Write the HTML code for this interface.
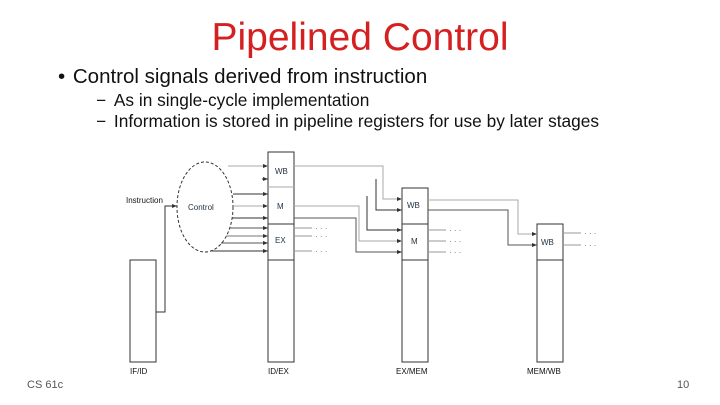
<!DOCTYPE html>
<html><head><style>
body{margin:0;width:720px;height:405px;background:#fff;overflow:hidden;position:relative;font-family:"Liberation Sans",sans-serif}
.t{position:absolute;white-space:nowrap}
</style></head><body>
<div class="t" style="left:0;width:720px;top:16px;text-align:center;font-size:39px;color:#d42020;font-family:'Liberation Sans',sans-serif">Pipelined Control</div>
<div class="t" style="left:58px;top:65px;font-size:20.5px;color:#111">• <span style="margin-left:2px">Control signals derived from instruction</span></div>
<div class="t" style="left:96px;top:90px;font-size:17.3px;color:#111">− <span style="margin-left:3px">As in single-cycle implementation</span></div>
<div class="t" style="left:96px;top:111px;font-size:17.3px;color:#111">− <span style="margin-left:3px">Information is stored in pipeline registers for use by later stages</span></div>
<div class="t" style="left:27px;top:379px;font-size:11px;color:#555">CS 61c</div>
<div class="t" style="left:677px;top:379px;font-size:11px;color:#555">10</div>
<svg width="720" height="405" style="position:absolute;left:0;top:0" font-family="Liberation Sans,sans-serif" font-size="8">
<defs><marker id="a" markerWidth="5" markerHeight="4" refX="5" refY="2" orient="auto"><path d="M0,0L5,2L0,4z" fill="#333"/></marker></defs>
<g fill="none" stroke="#333" stroke-width="1">
<rect x="130" y="260" width="26" height="102"/>
<rect x="268" y="152" width="26" height="210"/>
<line x1="268" y1="187" x2="294" y2="187" stroke="#aaa"/>
<line x1="268" y1="224" x2="294" y2="224"/><line x1="268" y1="260" x2="294" y2="260"/>
<rect x="402" y="188" width="26" height="174"/>
<line x1="402" y1="224" x2="428" y2="224"/><line x1="402" y1="260" x2="428" y2="260"/>
<rect x="537" y="224" width="26" height="138"/>
<line x1="537" y1="260" x2="563" y2="260"/>
<ellipse cx="205" cy="207" rx="28" ry="45" stroke-dasharray="3,2"/>
<polyline points="156,312 165,312 165,206 177,206" marker-end="url(#a)"/>
</g>
<g fill="none" stroke-width="1" marker-end="url(#a)">
<line x1="228" y1="166" x2="268" y2="166" stroke="#aaa"/>
<line x1="262" y1="179" x2="268" y2="179" stroke="#333"/>
<line x1="233" y1="194" x2="268" y2="194" stroke="#333"/>
<line x1="233" y1="206" x2="268" y2="206" stroke="#aaa"/>
<line x1="232" y1="218" x2="268" y2="218" stroke="#333"/>
<line x1="230" y1="228" x2="268" y2="228" stroke="#555"/>
<line x1="226" y1="236" x2="268" y2="236" stroke="#777"/>
<line x1="221" y1="243" x2="268" y2="243" stroke="#555"/>
<line x1="212" y1="251" x2="268" y2="251" stroke="#333"/>
<polyline points="294,166 383,166 383,199 402,199" stroke="#aaa"/>
<polyline points="376,179 376,210 402,210" stroke="#333"/>
<polyline points="367,196 367,230 402,230" stroke="#333"/>
<polyline points="294,206 359,206 359,241 402,241" stroke="#aaa"/>
<polyline points="294,218 356,218 356,252 402,252" stroke="#555"/>
<polyline points="428,200 518,200 518,234 537,234" stroke="#aaa"/>
<polyline points="428,210 508,210 508,245 537,245" stroke="#555"/>
</g>
<g stroke="#999" stroke-width="1">
<line x1="294" y1="228" x2="312" y2="228"/><line x1="294" y1="236" x2="312" y2="236"/><line x1="294" y1="251" x2="312" y2="251"/>
<line x1="428" y1="230" x2="446" y2="230"/><line x1="428" y1="241" x2="446" y2="241"/><line x1="428" y1="252" x2="446" y2="252"/>
<line x1="563" y1="233" x2="581" y2="233"/><line x1="563" y1="245" x2="581" y2="245"/>
</g>
<g fill="#666" font-size="8">
<text x="315" y="231">· · ·</text><text x="315" y="239">· · ·</text><text x="315" y="254">· · ·</text>
<text x="449" y="233">· · ·</text><text x="449" y="244">· · ·</text><text x="449" y="255">· · ·</text>
<text x="584" y="236">· · ·</text><text x="584" y="248">· · ·</text>
</g>
<g fill="#234">
<text x="275" y="174">WB</text><text x="277" y="209">M</text><text x="275" y="243">EX</text>
<text x="407" y="208">WB</text><text x="411" y="244">M</text><text x="541" y="245">WB</text>
<text x="188" y="210">Control</text>
<text x="126" y="203" fill="#111">Instruction</text>
<text x="130" y="374" fill="#111">IF/ID</text><text x="268" y="374" fill="#111">ID/EX</text>
<text x="396" y="374" fill="#111">EX/MEM</text><text x="527" y="374" fill="#111">MEM/WB</text>
</g>
</svg>
</body></html>
